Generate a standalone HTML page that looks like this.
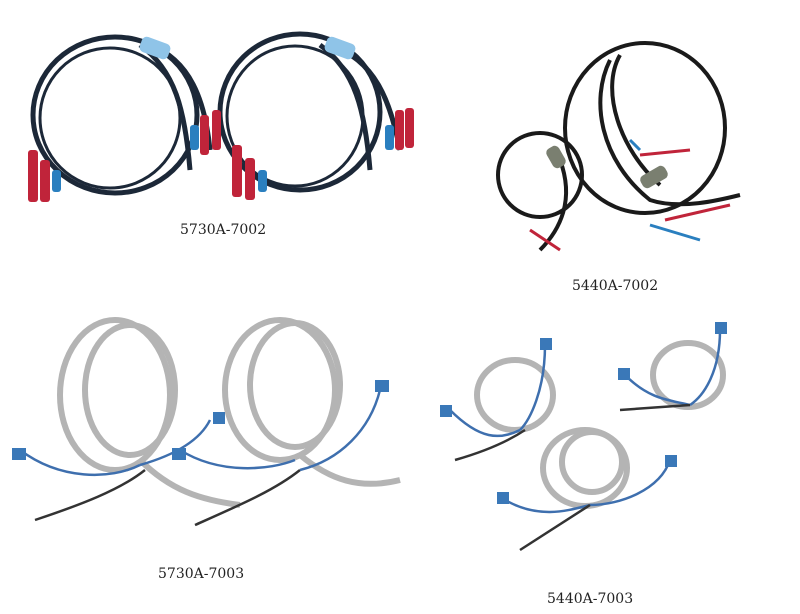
<!DOCTYPE html>
<html><head><style>
body{margin:0;background:#fff;width:800px;height:614px;overflow:hidden}
svg{display:block}
text{font-family:"DejaVu Serif","Liberation Serif",serif;font-size:14px;fill:#222}
</style></head><body>
<svg width="800" height="614" viewBox="0 0 800 614">
<!-- top-left 5730A-7002 -->
<g fill="none" stroke="#1c2838" stroke-width="5">
<ellipse cx="115" cy="115" rx="82" ry="78"/>
<ellipse cx="110" cy="118" rx="70" ry="70" stroke-width="3"/>
<path d="M150 45 C190 60 205 100 210 150"/>
<path d="M140 45 C175 70 185 110 190 170"/>
<ellipse cx="300" cy="112" rx="80" ry="78"/>
<ellipse cx="295" cy="116" rx="68" ry="70" stroke-width="3"/>
<path d="M330 45 C375 60 390 100 400 150"/>
<path d="M320 45 C355 70 365 110 370 170"/>
</g>
<rect x="140" y="40" width="30" height="16" rx="5" fill="#8fc4e8" transform="rotate(20 155 48)"/>
<rect x="325" y="40" width="30" height="16" rx="5" fill="#8fc4e8" transform="rotate(20 340 48)"/>
<g fill="#c0243a"><rect x="28" y="150" width="10" height="52" rx="3"/><rect x="40" y="160" width="10" height="42" rx="3"/><rect x="200" y="115" width="9" height="40" rx="3"/><rect x="212" y="110" width="9" height="40" rx="3"/><rect x="232" y="145" width="10" height="52" rx="3"/><rect x="245" y="158" width="10" height="42" rx="3"/><rect x="395" y="110" width="9" height="40" rx="3"/><rect x="405" y="108" width="9" height="40" rx="3"/></g>
<g fill="#2a7fbf"><rect x="52" y="170" width="9" height="22" rx="3"/><rect x="190" y="125" width="9" height="25" rx="3"/><rect x="258" y="170" width="9" height="22" rx="3"/><rect x="385" y="125" width="9" height="25" rx="3"/></g>
<text x="180" y="234">5730A-7002</text>
<!-- top-right 5440A-7002 -->
<g fill="none" stroke="#1a1a1a" stroke-width="4">
<ellipse cx="645" cy="128" rx="80" ry="85"/>
<path d="M610 60 C590 100 600 160 650 200 C680 210 720 200 740 195"/>
<path d="M620 55 C600 90 620 150 660 185"/>
<ellipse cx="540" cy="175" rx="42" ry="42"/>
<path d="M560 160 C575 200 560 230 540 250"/>
</g>
<rect x="640" y="170" width="28" height="14" rx="5" fill="#7a7f70" transform="rotate(-30 654 177)"/>
<rect x="545" y="150" width="22" height="14" rx="5" fill="#7a7f70" transform="rotate(60 556 157)"/>
<g stroke-width="3" fill="none"><path d="M530 230 L560 250" stroke="#c0243a"/><path d="M640 155 L690 150" stroke="#c0243a"/><path d="M630 140 L640 150" stroke="#2a7fbf"/><path d="M665 220 L730 205" stroke="#c0243a"/><path d="M650 225 L700 240" stroke="#2a7fbf"/></g>
<text x="572" y="290">5440A-7002</text>
<!-- bottom-left 5730A-7003 -->
<g fill="none" stroke="#b4b4b4" stroke-width="6">
<ellipse cx="115" cy="395" rx="55" ry="75"/>
<ellipse cx="130" cy="390" rx="45" ry="65"/>
<ellipse cx="280" cy="390" rx="55" ry="70"/>
<ellipse cx="295" cy="385" rx="45" ry="62"/>
<path d="M140 460 C170 490 200 500 240 505"/>
<path d="M300 455 C330 480 360 490 400 480"/>
</g>
<g fill="none" stroke-width="2.5"><path d="M20 450 C60 480 110 480 140 465" stroke="#3e6fae"/><path d="M35 520 C80 505 120 490 145 470" stroke="#333"/><path d="M180 450 C220 475 270 470 295 460" stroke="#3e6fae"/><path d="M195 525 C240 505 275 490 300 470" stroke="#333"/><path d="M380 390 C370 430 340 460 300 470" stroke="#3e6fae"/><path d="M210 420 C200 440 175 455 140 465" stroke="#3e6fae"/></g>
<g fill="#3a78b8"><rect x="12" y="448" width="14" height="12"/><rect x="172" y="448" width="14" height="12"/><rect x="375" y="380" width="14" height="12"/><rect x="213" y="412" width="12" height="12"/></g>
<text x="158" y="578">5730A-7003</text>
<!-- bottom-right 5440A-7003 -->
<g fill="none" stroke="#b4b4b4" stroke-width="6">
<ellipse cx="515" cy="395" rx="38" ry="35"/>
<ellipse cx="688" cy="375" rx="35" ry="32"/>
<ellipse cx="585" cy="468" rx="42" ry="38"/>
<ellipse cx="592" cy="462" rx="30" ry="30"/>
</g>
<g fill="none" stroke-width="2.5"><path d="M450 410 C480 440 500 440 520 430" stroke="#3e6fae"/><path d="M455 460 C490 450 510 440 525 430" stroke="#333"/><path d="M545 345 C545 390 530 420 520 430" stroke="#3e6fae"/><path d="M625 375 C650 400 670 400 690 405" stroke="#3e6fae"/><path d="M720 330 C720 370 705 395 690 405" stroke="#3e6fae"/><path d="M620 410 L690 405" stroke="#333"/><path d="M505 500 C540 520 570 510 590 505" stroke="#3e6fae"/><path d="M670 460 C660 490 620 505 590 505" stroke="#3e6fae"/><path d="M520 550 L590 505" stroke="#333"/></g>
<g fill="#3a78b8"><rect x="440" y="405" width="12" height="12"/><rect x="540" y="338" width="12" height="12"/><rect x="618" y="368" width="12" height="12"/><rect x="715" y="322" width="12" height="12"/><rect x="497" y="492" width="12" height="12"/><rect x="665" y="455" width="12" height="12"/></g>
<text x="547" y="603">5440A-7003</text>
</svg>
</body></html>
